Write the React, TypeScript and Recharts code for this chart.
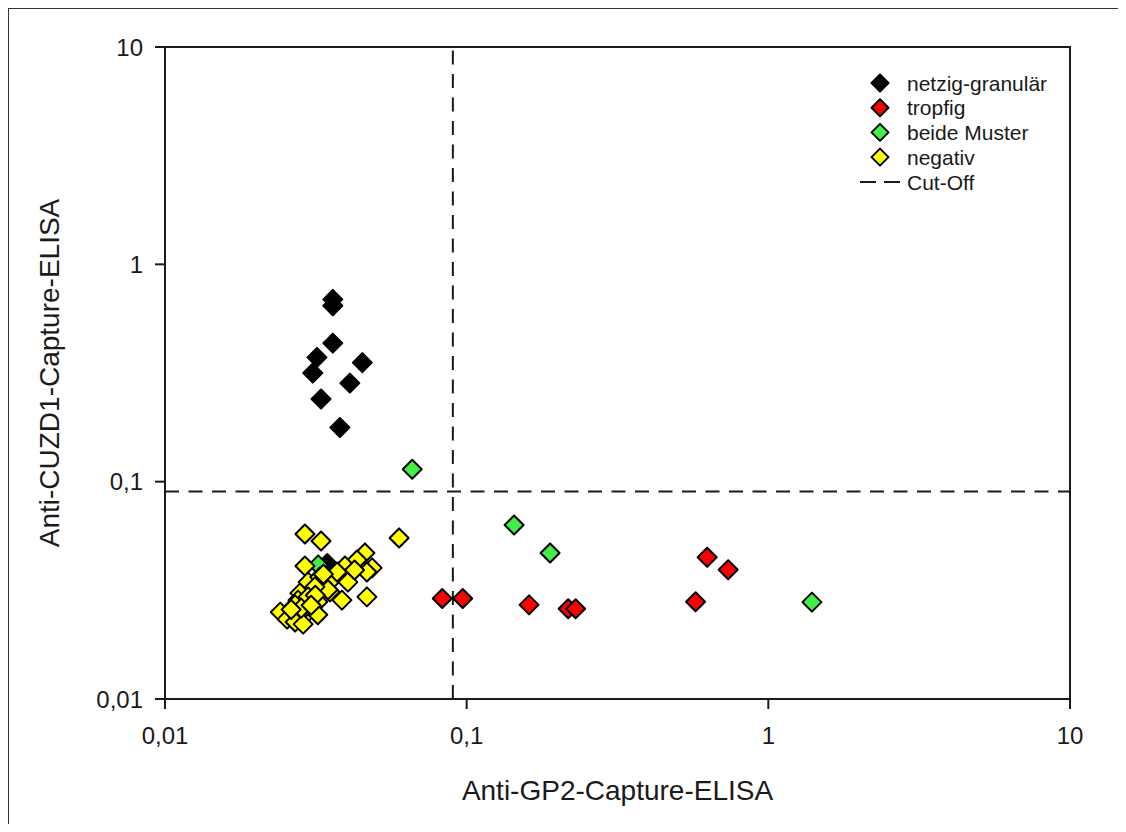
import {
  Label,
  Legend,
  ReferenceArea,
  ReferenceLine,
  Scatter,
  ScatterChart,
  XAxis,
  YAxis,
} from 'recharts'

type Pt = { x: number; y: number }

// values
const netzigGranular: Pt[] = [
  { x: 0.036, y: 0.69 },
  { x: 0.036, y: 0.645 },
  { x: 0.036, y: 0.434 },
  { x: 0.0319, y: 0.373 },
  { x: 0.0309, y: 0.316 },
  { x: 0.0451, y: 0.353 },
  { x: 0.041, y: 0.284 },
  { x: 0.0329, y: 0.24 },
  { x: 0.038, y: 0.1775 },
  { x: 0.0345, y: 0.042 },
  { x: 0.0355, y: 0.0398 },
]

const tropfig: Pt[] = [
  { x: 0.083, y: 0.029 },
  { x: 0.097, y: 0.029 },
  { x: 0.161, y: 0.0271 },
  { x: 0.217, y: 0.026 },
  { x: 0.2297, y: 0.026 },
  { x: 0.574, y: 0.028 },
  { x: 0.627, y: 0.0449 },
  { x: 0.736, y: 0.0393 },
]

const beideMuster: Pt[] = [
  { x: 0.066, y: 0.114 },
  { x: 0.1436, y: 0.0632 },
  { x: 0.189, y: 0.047 },
  { x: 1.395, y: 0.0279 },
  { x: 0.0322, y: 0.0414 },
]

const negativ: Pt[] = [
  { x: 0.0291, y: 0.0574 },
  { x: 0.0329, y: 0.0533 },
  { x: 0.0597, y: 0.0551 },
  { x: 0.046, y: 0.047 },
  { x: 0.0433, y: 0.0436 },
  { x: 0.0486, y: 0.0401 },
  { x: 0.0395, y: 0.0409 },
  { x: 0.0467, y: 0.0384 },
  { x: 0.036, y: 0.0357 },
  { x: 0.0404, y: 0.0345 },
  { x: 0.0352, y: 0.0311 },
  { x: 0.0386, y: 0.0285 },
  { x: 0.0467, y: 0.0295 },
  { x: 0.0291, y: 0.0409 },
  { x: 0.0298, y: 0.0345 },
  { x: 0.0326, y: 0.0364 },
  { x: 0.0347, y: 0.0318 },
  { x: 0.0314, y: 0.0328 },
  { x: 0.028, y: 0.0307 },
  { x: 0.0276, y: 0.0285 },
  { x: 0.027, y: 0.0271 },
  { x: 0.0298, y: 0.0295 },
  { x: 0.0321, y: 0.028 },
  { x: 0.0298, y: 0.0251 },
  { x: 0.0276, y: 0.0244 },
  { x: 0.0241, y: 0.0251 },
  { x: 0.0254, y: 0.0233 },
  { x: 0.027, y: 0.0226 },
  { x: 0.0321, y: 0.0244 },
  { x: 0.0287, y: 0.0221 },
  { x: 0.0372, y: 0.0384 },
  { x: 0.0335, y: 0.0375 },
  { x: 0.0315, y: 0.03 },
  { x: 0.0283, y: 0.0262 },
  { x: 0.0305, y: 0.027 },
  { x: 0.0425, y: 0.0392 },
  { x: 0.0262, y: 0.0258 },
]

const cutOff = 0.09
const logTicks = [0.01, 0.1, 1, 10]

const series = [
  { name: 'netzig-granulär', data: netzigGranular, color: '#000000' },
  { name: 'tropfig', data: tropfig, color: '#ff0000' },
  { name: 'beide Muster', data: beideMuster, color: '#44ee44' },
  { name: 'negativ', data: negativ, color: '#ffff00' },
]

const FONT = '"Liberation Sans", Arial, sans-serif'
const INK = '#1a1a1a'

const fmt = (v: number) => String(v).replace('.', ',')

const diamondPoints = (cx: number, cy: number, r: number) =>
  `${cx},${cy - r} ${cx + r},${cy} ${cx},${cy + r} ${cx - r},${cy}`

const makeDiamond = (color: string) => (props: any) => {
  const { cx, cy } = props
  if (cx == null || cy == null) return <g />
  return (
    <polygon
      points={diamondPoints(cx, cy, 9.5)}
      fill={color}
      stroke="#000"
      strokeWidth={2}
      strokeLinejoin="round"
    />
  )
}

const LegendBox = () => (
  <svg width={220} height={130} style={{ display: 'block', fontFamily: FONT }}>
    {series.map((s, i) => {
      const y = 15 + i * 24.7
      return (
        <g key={s.name}>
          <polygon
            points={diamondPoints(30, y, 8.5)}
            fill={s.color}
            stroke="#000"
            strokeWidth={2}
            strokeLinejoin="round"
          />
          <text x={57} y={y} dy="0.36em" fontSize={21} fill={INK}>
            {s.name}
          </text>
        </g>
      )
    })}
    <line x1={10} x2={50} y1={114} y2={114} stroke={INK} strokeWidth={2} strokeDasharray="16 8" />
    <text x={57} y={114} dy="0.36em" fontSize={21} fill={INK}>
      Cut-Off
    </text>
  </svg>
)

export default function App() {
  return (
    <div style={{ position: 'relative', fontFamily: FONT }}>
      <ScatterChart width={1110} height={816} margin={{ top: 39, right: 48, left: 0, bottom: 0 }}>
        <XAxis
          dataKey="x"
          type="number"
          scale="log"
          domain={[0.01, 10]}
          ticks={logTicks}
          interval={0}
          tickFormatter={fmt}
          height={125}
          tickSize={10}
          tickMargin={18}
          stroke={INK}
          strokeWidth={2}
          tick={{ fill: INK, fontSize: 24, fontFamily: FONT }}
        >
          <Label
            value="Anti-GP2-Capture-ELISA"
            position="insideBottom"
            offset={24}
            fill={INK}
            fontSize={28}
            fontFamily={FONT}
          />
        </XAxis>
        <YAxis
          dataKey="y"
          type="number"
          scale="log"
          domain={[0.01, 10]}
          ticks={logTicks}
          interval={0}
          tickFormatter={fmt}
          width={157}
          tickSize={10}
          tickMargin={12}
          stroke={INK}
          strokeWidth={2}
          tick={{ fill: INK, fontSize: 24, fontFamily: FONT }}
        >
          <Label
            value="Anti-CUZD1-Capture-ELISA"
            position="insideLeft"
            angle={-90}
            offset={41}
            fill={INK}
            fontSize={28}
            fontFamily={FONT}
            textAnchor="middle"
            style={{ textAnchor: 'middle' }}
          />
        </YAxis>
        <ReferenceArea
          x1={0.01}
          x2={10}
          y1={0.01}
          y2={10}
          fill="none"
          stroke={INK}
          strokeWidth={2}
          ifOverflow="visible"
        />
        <ReferenceLine x={cutOff} stroke={INK} strokeWidth={2} strokeDasharray="14 9.5" />
        <ReferenceLine y={cutOff} stroke={INK} strokeWidth={2} strokeDasharray="14 9.5" />
        {series.map((s) => (
          <Scatter
            key={s.name}
            name={s.name}
            data={s.data}
            fill={s.color}
            shape={makeDiamond(s.color)}
            isAnimationActive={false}
          />
        ))}
        <Legend
          layout="horizontal"
          verticalAlign="middle"
          align="center"
          wrapperStyle={{ left: 842, top: 60, width: 220, height: 130 }}
          content={() => <LegendBox />}
        />
      </ScatterChart>
      <div
        style={{
          position: 'absolute',
          left: -1,
          top: -1,
          width: 1112,
          height: 822,
          borderLeft: '2px solid #333',
          borderTop: '2px solid #333',
          pointerEvents: 'none',
          zIndex: 5,
        }}
      />
    </div>
  )
}
